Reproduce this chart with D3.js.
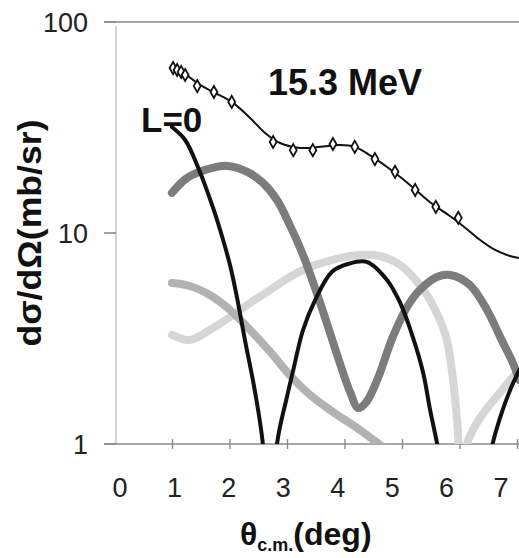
<!DOCTYPE html>
<html><head><meta charset="utf-8">
<script src="https://cdn.jsdelivr.net/npm/d3@7/dist/d3.min.js"></script>
<style>body{margin:0;background:#fff}svg{display:block}</style>
</head><body><svg id="c" width="519" height="558"></svg>
<script>
// ---- data ----
const xTicks = [0,1,2,3,4,5,6,7];
const yTicks = [1,10,100];
const energyLabel = "15.3 MeV";
const curveLabel = "L=0";

const thetaExp = [1.01,1.08,1.15,1.22,1.43,1.72,2.03,2.75,3.10,3.44,3.79,4.17,4.52,4.87,5.22,5.58,5.97];
const expVals  = [60.5,59.2,58.0,56.1,49.7,46.6,41.8,27.0,24.7,24.7,26.4,25.6,22.4,19.5,16.0,13.3,11.8];

const thetaFit = [0.99,1.22,1.48,1.74,2.03,2.35,2.61,2.87,3.22,3.57,3.91,4.17,4.43,4.78,5.13,5.48,5.83,6.09,6.35,6.61,6.87,7.03];
const fitVals  = [61.9,56.7,50.3,46.1,41.8,35.1,29.8,26.7,25.3,25.6,26.1,25.6,23.4,20.1,16.9,14.0,12.0,10.6,9.26,8.31,7.78,7.61];

const thetaL0 = [0.99,1.22,1.44,1.70,1.83,2.00,2.12,2.26,2.43,2.57,2.70,2.82,2.99,3.10,3.27,3.48,3.77,4.05,4.38,4.73,4.96,5.18,5.36,5.48,5.60,6.08,6.57,6.70,6.87,7.03];
const valsL0  = [31.8,27.6,20.6,13.3,10.3,7.05,4.97,3.11,1.80,1.01,0.3,1.01,1.67,2.24,3.47,4.81,6.54,7.13,7.29,5.99,4.66,3.21,2.17,1.45,1.01,0.2,1.01,1.34,1.80,2.24];

const thetaL1 = [0.99,1.25,1.57,1.95,2.30,2.57,2.82,3.04,3.27,3.51,3.74,3.91,4.09,4.23,4.37,4.56,4.83,5.08,5.30,5.60,5.83,6.17,6.47,6.70,6.92,7.03];
const valsL1  = [15.5,18.2,19.9,20.8,19.5,17.3,14.3,10.9,7.87,5.19,3.36,2.42,1.76,1.48,1.58,2.01,3.21,4.46,5.37,6.19,6.32,5.67,4.32,3.21,2.42,2.01];

const thetaL2 = [0.99,1.30,1.65,2.00,2.35,2.70,3.04,3.39,3.74,4.26,4.61,4.96];
const valsL2  = [5.79,5.61,5.08,4.32,3.47,2.73,2.12,1.71,1.45,1.165,0.99,0.84];

const thetaL3 = [0.99,1.30,1.65,2.00,2.35,2.70,3.04,3.39,3.91,4.26,4.61,4.96,5.30,5.57,5.77,5.95,6.02,6.12,6.35,6.70,7.03];
const valsL3  = [3.29,3.11,3.47,4.00,4.66,5.37,6.19,6.90,7.61,7.87,7.78,7.05,5.67,4.32,3.11,1.30,0.6,1.0,1.33,1.76,2.24];

// ---- chart ----
const svg = d3.select("#c");
const x = d3.scaleLinear().domain([0,7]).range([115,517.5]);
const xLab = d3.scaleLinear().domain([0,7]).range([120,501]);
const y = d3.scaleLog().domain([1,100]).range([444,22]);

svg.append("defs").append("clipPath").attr("id","clip")
  .append("rect").attr("x",116).attr("y",22).attr("width",403).attr("height",422);

const axisCol = "#8a8a8a";
svg.append("line").attr("x1",116).attr("x2",116).attr("y1",26).attr("y2",444)
  .attr("stroke","#c4c4c4").attr("stroke-width",1.5);
svg.append("line").attr("x1",104).attr("x2",519).attr("y1",y(100)).attr("y2",y(100))
  .attr("stroke",axisCol).attr("stroke-width",1.6);
svg.append("line").attr("x1",104).attr("x2",519).attr("y1",y(1)).attr("y2",y(1))
  .attr("stroke",axisCol).attr("stroke-width",1.6);
svg.selectAll(".yt").data(yTicks).join("line")
  .attr("x1",104).attr("x2",116).attr("y1",d=>y(d)).attr("y2",d=>y(d))
  .attr("stroke",axisCol).attr("stroke-width",1.6);
svg.selectAll(".yl").data(yTicks).join("text")
  .attr("x",88).attr("y",d=>y(d)).attr("dy","0.36em").attr("text-anchor","end")
  .attr("font-family","Liberation Sans, Arial, sans-serif").attr("font-size",27)
  .attr("fill","#222").text(d=>d);
svg.selectAll(".xt").data(xTicks.slice(1)).join("line")
  .attr("x1",d=>x(d)).attr("x2",d=>x(d)).attr("y1",439).attr("y2",449)
  .attr("stroke",axisCol).attr("stroke-width",1.4);
svg.selectAll(".xl").data(xTicks).join("text")
  .attr("x",d=>xLab(d)).attr("y",497).attr("text-anchor","middle")
  .attr("font-family","Liberation Sans, Arial, sans-serif").attr("font-size",27)
  .attr("fill","#222").text(d=>d);

const line = d3.line().x(d=>x(d[0])).y(d=>y(d[1])).curve(d3.curveCatmullRom.alpha(0.5));
const g = svg.append("g").attr("clip-path","url(#clip)");
function draw(th, v, col, w){
  g.append("path").datum(th.map((t,i)=>[t,v[i]]))
   .attr("d",line).attr("fill","none").attr("stroke",col).attr("stroke-width",w)
   .attr("stroke-linecap","round").attr("stroke-linejoin","round");
}
draw(thetaL3, valsL3, "#d6d6d6", 8);
draw(thetaL2, valsL2, "#b2b2b2", 8);
draw(thetaL1, valsL1, "#7c7c7c", 8);
draw(thetaL0, valsL0, "#111", 4);
draw(thetaFit, fitVals, "#111", 2);

const sym = d3.symbol().type(d3.symbolDiamond).size(42);
g.selectAll(".pt").data(thetaExp.map((t,i)=>[t,expVals[i]])).join("path")
  .attr("transform",d=>`translate(${x(d[0])},${y(d[1])})`)
  .attr("d",sym).attr("fill","#fff").attr("stroke","#111").attr("stroke-width",1.8);

svg.append("text").attr("x",268).attr("y",95)
  .attr("font-family","Liberation Sans, Arial, sans-serif").attr("font-weight","bold")
  .attr("font-size",36).attr("fill","#111").text(energyLabel);
svg.append("text").attr("x",141).attr("y",132)
  .attr("font-family","Liberation Sans, Arial, sans-serif").attr("font-weight","bold")
  .attr("font-size",35).attr("fill","#111").text(curveLabel);

svg.append("text").attr("transform","translate(41,233) rotate(-90)")
  .attr("text-anchor","middle").attr("font-family","Liberation Sans, Arial, sans-serif")
  .attr("font-weight","bold").attr("font-size",33).attr("fill","#111")
  .attr("textLength",227).attr("lengthAdjust","spacingAndGlyphs")
  .text("dσ/dΩ(mb/sr)");
const xt = svg.append("text").attr("x",240).attr("y",545)
  .attr("font-family","Liberation Sans, Arial, sans-serif")
  .attr("font-weight","bold").attr("font-size",32).attr("fill","#111");
xt.append("tspan").text("θ");
xt.append("tspan").attr("font-size",18).attr("dy",6).text("c.m.");
xt.append("tspan").attr("dy",-6).text("(deg)");
</script></body></html>
